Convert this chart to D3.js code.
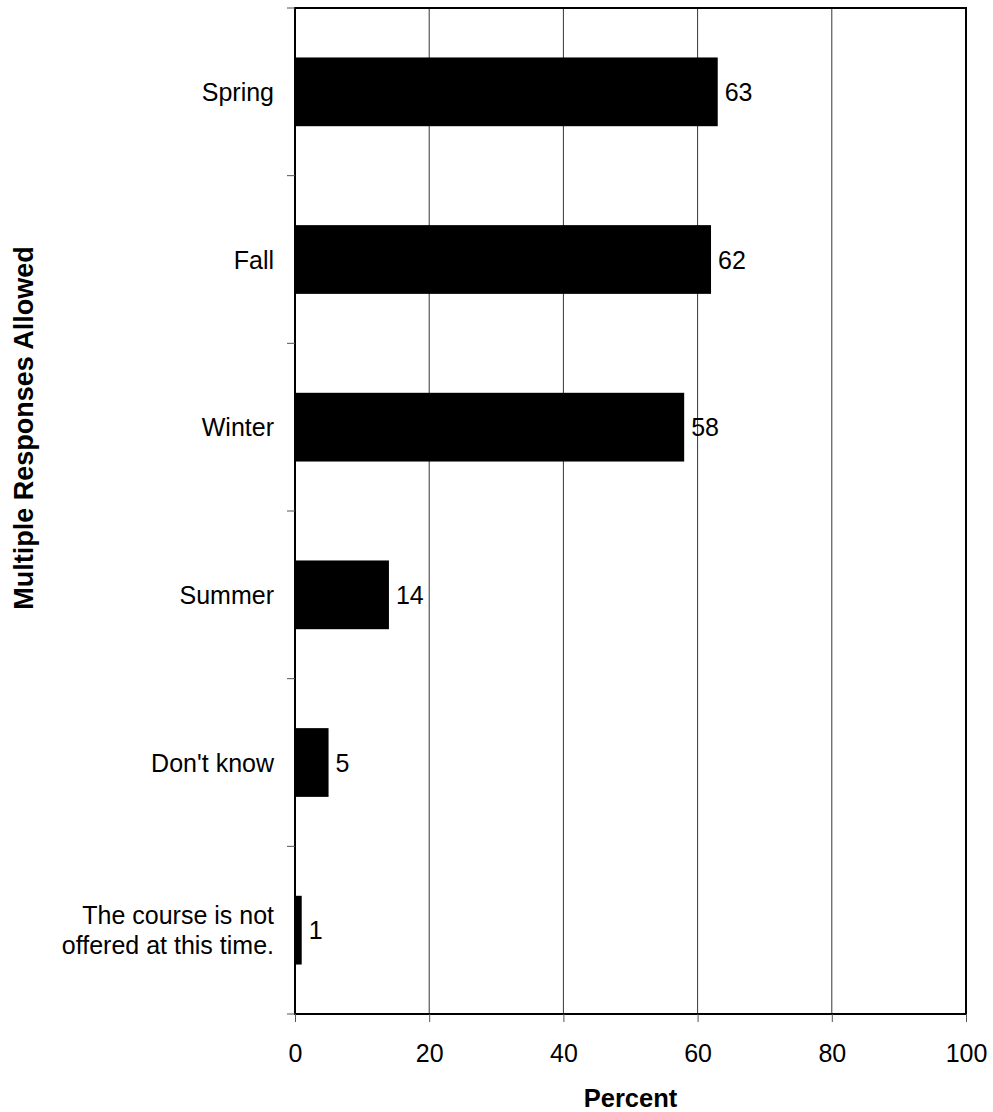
<!DOCTYPE html>
<html><head><meta charset="utf-8">
<script src="https://cdn.jsdelivr.net/npm/d3@7"></script>
<style>body{margin:0;background:#fff}svg{display:block;font-family:"Liberation Sans",Arial,sans-serif}</style>
</head><body><svg id="c" width="993" height="1112"></svg>
<script>
const categories = ["Spring","Fall","Winter","Summer","Don't know","The course is not|offered at this time."];
const values = [63,62,58,14,5,1];
const xTicks = [0,20,40,60,80,100];
const xTitle = "Percent";
const yTitle = "Multiple Responses Allowed";

const svg = d3.select("#c");
const L=295,R=966,T=8,B=1014;
const FS=25;
const x = d3.scaleLinear().domain([0,100]).range([L,R]);
const y = d3.scaleBand().domain(categories).range([T,B]).paddingInner(0.59).paddingOuter(0.295);
const band = d3.scaleBand().domain(categories).range([T,B]);

// gridlines
svg.selectAll("line.grid").data(xTicks.slice(1,-1)).join("line")
  .attr("x1",d=>x(d)).attr("x2",d=>x(d)).attr("y1",T).attr("y2",B)
  .attr("stroke","#000").attr("stroke-width",0.8);

// bars
svg.selectAll("rect.bar").data(values).join("rect")
  .attr("x",L).attr("y",(d,i)=>y(categories[i]))
  .attr("width",d=>x(d)-L).attr("height",y.bandwidth()).attr("fill","#000");

// border
svg.append("rect").attr("x",L).attr("y",T).attr("width",R-L).attr("height",B-T)
  .attr("fill","none").attr("stroke","#000").attr("stroke-width",2);

// x axis ticks
const xa = svg.append("g").attr("transform",`translate(0,${B})`)
  .call(d3.axisBottom(x).tickValues(xTicks).tickSize(8).tickPadding(0).tickFormat(d3.format("d")));
xa.select(".domain").remove();
xa.selectAll("line").attr("stroke","#555");
xa.selectAll("text").attr("font-size",FS).attr("fill","#000").attr("dy",null).attr("y",48)
  .attr("font-family","Liberation Sans, Arial, sans-serif");

// y ticks at band boundaries
const bounds = categories.map(c=>band(c)).concat([B]);
svg.selectAll("line.yt").data(bounds).join("line")
  .attr("x1",L-8).attr("x2",L).attr("y1",d=>d).attr("y2",d=>d)
  .attr("stroke","#555").attr("stroke-width",1);

// category labels
categories.forEach((c,i)=>{
  const lines=c.split("|");
  const cy=band(c)+band.bandwidth()/2;
  const t=svg.append("text").attr("text-anchor","end").attr("font-size",FS).attr("fill","#000");
  lines.forEach((ln,j)=>{
    t.append("tspan").attr("x",274).attr("y",cy+9+(j-(lines.length-1)/2)*30).text(ln);
  });
});

// value labels
svg.selectAll("text.val").data(values).join("text")
  .attr("x",d=>x(d)+7).attr("y",(d,i)=>y(categories[i])+y.bandwidth()/2+9)
  .attr("font-size",FS).attr("fill","#000").text(d=>d);

// titles
svg.append("text").attr("x",(L+R)/2).attr("y",1107).attr("text-anchor","middle")
  .attr("font-size",25.5).attr("font-weight","bold").text(xTitle);
svg.append("text").attr("transform",`translate(33,428) rotate(-90)`).attr("text-anchor","middle")
  .attr("font-size",27).attr("font-weight","bold").text(yTitle);
</script></body></html>
